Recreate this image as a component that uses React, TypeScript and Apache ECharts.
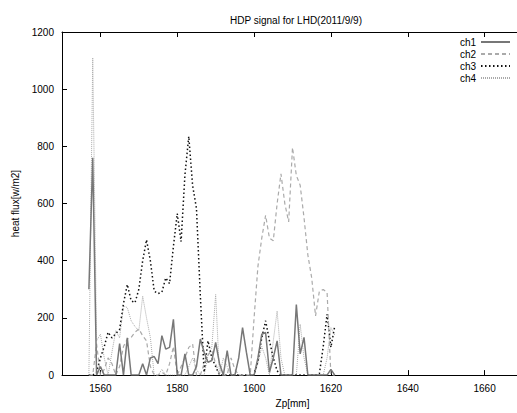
import React, { useEffect, useRef } from "react";
import * as echarts from "echarts";

const zp = [
  1557, 1558, 1559, 1560, 1561, 1562, 1563, 1564, 1565, 1566, 1567, 1568, 1569, 1570,
  1571, 1572, 1573, 1574, 1575, 1576, 1577, 1578, 1579, 1580, 1581, 1582, 1583, 1584,
  1585, 1586, 1587, 1588, 1589, 1590, 1591, 1592, 1593, 1594, 1595, 1596, 1597, 1598,
  1599, 1600, 1601, 1602, 1603, 1604, 1605, 1606, 1607, 1608, 1609, 1610, 1611, 1612,
  1613, 1614, 1615, 1616, 1617, 1618, 1619, 1620, 1621,
];

const ch1 = [
  300, 760, 0, 30, 0, 0, 0, 0, 110, 0, 130, 0, 0, 0,
  40, 0, 60, 65, 40, 138, 91, 97, 195, 0, 0, 74, 0, 0,
  30, 126, 80, 45, 51, 114, 40, 0, 86, 0, 0, 60, 166, 80,
  0, 0, 60, 143, 149, 10, 60, 120, 0, 0, 0, 0, 247, 74,
  132, 0, 0, 0, 0, 0, 0, 20, 0,
];

const ch2 = [
  0, 0, 109, 0, 20, 60, 40, 0, 30, 100, 126, 132, 150, 161,
  138, 120, 30, 0, 0, 10, 0, 40, 100, 0, 30, 60, 97, 109,
  0, 0, 40, 70, 86, 40, 0, 0, 0, 60, 20, 0, 0, 0,
  0, 200, 380, 479, 559, 479, 470, 600, 704, 600, 536, 796, 698, 664,
  550, 420, 340, 207, 294, 299, 290, 0, 0,
];

const ch3 = [
  0, 0, 10, 60, 100, 150, 130, 145, 160, 250, 317, 260, 253, 300,
  400, 473, 400, 294, 285, 290, 340, 320, 450, 565, 467, 700, 835, 663,
  583, 280, 10, 120, 60, 30, 0, 0, 0, 0, 0, 0, 0, 0,
  0, 0, 50, 130, 190, 120, 60, 15, 0, 0, 0, 0, 0, 0,
  0, 0, 0, 0, 5, 100, 213, 97, 172,
];

const ch4 = [
  0, 1110, 120, 143, 60, 0, 80, 155, 130, 242, 236, 190, 170, 155,
  276, 200, 132, 0, 0, 20, 0, 0, 0, 0, 0, 0, 30, 60,
  20, 0, 0, 70, 97, 282, 0, 60, 30, 0, 0, 0, 0, 0,
  0, 0, 40, 100, 60, 0, 120, 224, 60, 0, 0, 0, 0, 178,
  60, 0, 0, 0, 0, 0, 60, 166, 140,
];

const xTicks = [1560, 1580, 1600, 1620, 1640, 1660];
const seriesNames = ["ch1", "ch2", "ch3", "ch4"];

export default function App() {
  const ref = useRef<HTMLDivElement>(null);
  useEffect(() => {
    if (!ref.current) return;
    const chart = echarts.init(ref.current, undefined, { renderer: "svg" });
    const font = "'Liberation Sans', Arial, Helvetica, sans-serif";
    const pairs = (vals: number[]) => zp.map((x, i) => [x, vals[i]]);
    const styles = [
      { color: "#777777", width: 1.5, type: "solid" as any },
      { color: "#aaaaaa", width: 1.2, type: [4, 3] as any },
      { color: "#111111", width: 1.5, type: [1.5, 2.5] as any },
      { color: "#aaaaaa", width: 1, type: [1, 1] as any },
    ];
    const data = [ch1, ch2, ch3, ch4];
    const plain = (v: number) => String(v);
    chart.setOption({
      animation: false,
      backgroundColor: "#ffffff",
      textStyle: { fontFamily: font },
      title: {
        text: "HDP signal for LHD(2011/9/9)",
        left: 291,
        textAlign: "center",
        top: 10,
        textStyle: { fontSize: 10, fontWeight: "normal", color: "#000", fontFamily: font },
      },
      legend: {
        orient: "vertical",
        right: 24,
        top: 32,
        align: "right",
        itemWidth: 29,
        itemHeight: 10,
        itemGap: 2,
        data: seriesNames,
        itemStyle: { opacity: 0 },
        textStyle: { fontSize: 10, color: "#000", fontFamily: font },
      },
      grid: { left: 62, top: 32, bottom: 35, right: 17, containLabel: false },
      xAxis: [
        {
          type: "value",
          min: 1550,
          max: 1670,
          interval: 10,
          name: "Zp[mm]",
          nameLocation: "middle",
          nameGap: 22,
          nameTextStyle: { fontSize: 10, color: "#000", fontFamily: font },
          axisLine: { lineStyle: { color: "#000", width: 1 } },
          axisTick: { inside: true, length: 5, lineStyle: { color: "#000" }, customValues: xTicks },
          axisLabel: { fontSize: 10, color: "#000", margin: 8, customValues: xTicks, formatter: plain },
          splitLine: { show: false },
        },
        {
          type: "value",
          position: "top",
          min: 1550,
          max: 1670,
          interval: 10,
          axisLine: { lineStyle: { color: "#000", width: 1 } },
          axisTick: { inside: true, length: 5, lineStyle: { color: "#000" }, customValues: xTicks },
          axisLabel: { show: false },
          splitLine: { show: false },
        },
      ],
      yAxis: {
        type: "value",
        min: 0,
        max: 1200,
        interval: 200,
        name: "heat flux[w/m2]",
        nameLocation: "middle",
        nameRotate: 90,
        nameGap: 40,
        nameTextStyle: { fontSize: 10, color: "#000", fontFamily: font },
        axisLine: { show: true, lineStyle: { color: "#000", width: 1 } },
        axisTick: { show: true, inside: true, length: 5, lineStyle: { color: "#000" } },
        axisLabel: { fontSize: 10, color: "#000", margin: 8, formatter: plain },
        splitLine: { show: false },
      },
      series: data.map((vals, i) => ({
        name: seriesNames[i],
        type: "line",
        xAxisIndex: 0,
        data: pairs(vals),
        symbol: "none",
        showSymbol: false,
        lineStyle: styles[i],
        itemStyle: { color: styles[i].color },
        z: 4 - i,
      })),
    });
    return () => chart.dispose();
  }, []);
  return (
    <div
      ref={ref}
      style={{ position: "fixed", left: 0, top: 0, width: 540, height: 413 }}
    />
  );
}
